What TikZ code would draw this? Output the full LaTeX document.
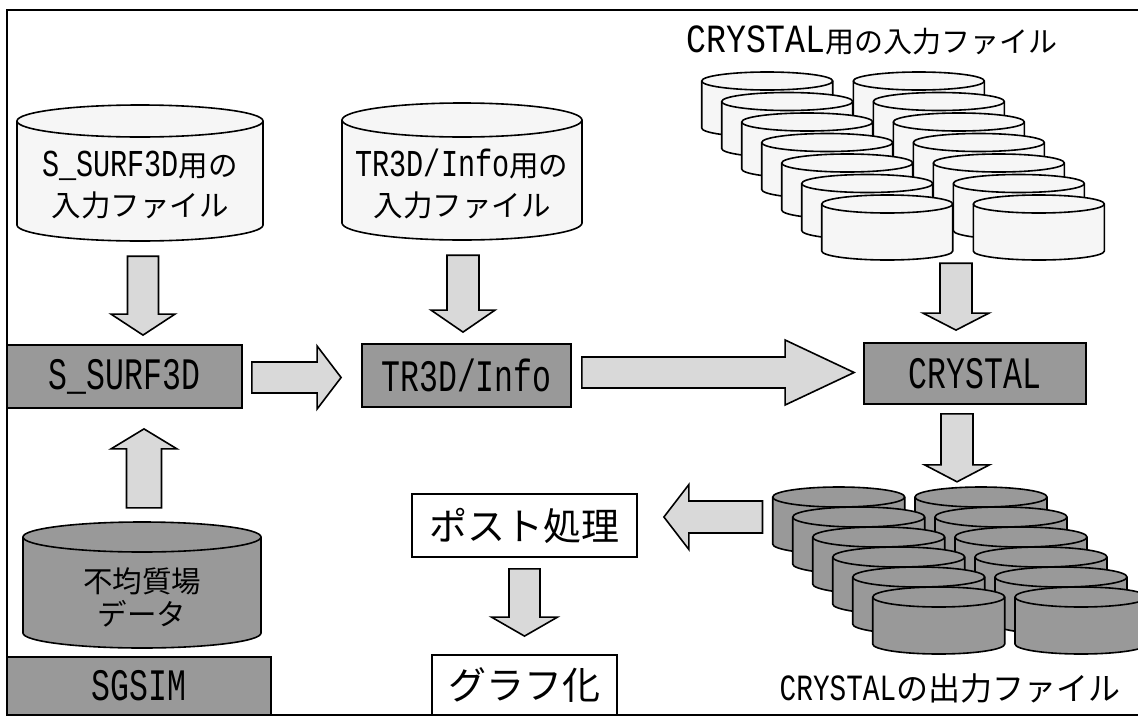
\documentclass[tikz,border=0pt]{standalone}
\usepackage{fontspec}
\setmainfont{Noto Sans CJK JP}
\newfontfamily\boxfont[FakeStretch=0.7]{Liberation Mono}
\newfontfamily\latA[FakeStretch=0.75]{Liberation Mono}
\newfontfamily\latB[FakeStretch=0.83]{Liberation Mono}
\newcommand\cylat[1]{{\latA\fontsize{38}{40}\selectfont #1}}
\usetikzlibrary{calc}
\definecolor{darkfill}{gray}{0.6}
\definecolor{lightfill}{gray}{0.85}
\definecolor{paperfill}{gray}{0.965}
\tikzset{
 frameline/.style={line width=2pt},
 boxdark/.style={draw, line width=1.8pt, fill=darkfill, inner sep=0, font=\boxfont\fontsize{45}{45}\selectfont},
 boxwhite/.style={draw, line width=1.8pt, fill=white, inner sep=0, font=\fontsize{38}{40}\selectfont},
 cylline/.style={line width=1.6pt},
 barrow/.style={draw, line width=1.6pt, fill=lightfill, line join=miter},
 cyltext/.style={align=center, inner sep=0, font=\fontsize{29.5}{40}\selectfont},
 titletext/.style={inner sep=0, font=\fontsize{29}{36}\selectfont},
}
% #1 name, #2 x left, #3 y top, #4 width, #5 height, #6 y radius, #7 fill
\newcommand\cylshape[7]{%
 \filldraw[cylline, fill=#7] (#2,#3+#6) -- (#2,#3+#5-#6)
   arc[start angle=180,end angle=0,x radius=#4/2,y radius=#6] -- (#2+#4,#3+#6)
   arc[start angle=0,end angle=-180,x radius=#4/2,y radius=#6] -- cycle;
 \draw[cylline] (#2,#3+#6) arc[start angle=180,end angle=0,x radius=#4/2,y radius=#6];
 \node[inner sep=0, minimum width=#4, minimum height=#5] (#1) at (#2+#4/2,#3+#5/2) {};}
% vertical block arrow: #1 start, #2 tip, #3 shaft half width, #4 head half width, #5 head length
\newcommand\varrow[5]{%
 \draw[barrow] let \p1=(#1), \p2=(#2), \n1={ifthenelse(\y1>\y2,1,-1)} in
   (\x1-#3pt,\y1) -- (\x1+#3pt,\y1) -- (\x1+#3pt,\y2+\n1*#5pt) -- (\x1+#4pt,\y2+\n1*#5pt)
   -- (\x1,\y2) -- (\x1-#4pt,\y2+\n1*#5pt) -- (\x1-#3pt,\y2+\n1*#5pt) -- cycle;}
% horizontal block arrow
\newcommand\harrow[5]{%
 \draw[barrow] let \p1=(#1), \p2=(#2), \n1={ifthenelse(\x1>\x2,1,-1)} in
   (\x1,\y1-#3pt) -- (\x2+\n1*#5pt,\y1-#3pt) -- (\x2+\n1*#5pt,\y1-#4pt) -- (\x2,\y1)
   -- (\x2+\n1*#5pt,\y1+#4pt) -- (\x2+\n1*#5pt,\y1+#3pt) -- (\x1,\y1+#3pt) -- cycle;}
\begin{document}
\begin{tikzpicture}[x=1pt,y=-1pt]
\useasboundingbox (0,0) rectangle (1138,718);
\fill[white] (0,0) rectangle (1138,718);
\draw[frameline] (1160,10) -- (7,10) -- (7,715) -- (1160,715);

% input cylinders
\cylshape{c1}{17}{105}{246}{136}{16}{paperfill}
\node[cyltext] (c1t) at ($(c1)+(0,12)$) {\cylat{S\_SURF3D}用の\\入力ファイル};
\cylshape{c2}{342}{103}{240}{137}{17}{paperfill}
\node[cyltext] (c2t) at ($(c2)+(0,12)$) {\cylat{TR3D/Info}用の\\入力ファイル};
\cylshape{c3}{23}{522}{238}{126}{15}{darkfill}
\node[cyltext, font=\fontsize{29.5}{33}\selectfont] (c3t) at ($(c3)+(0,12)$) {不均質場\\データ};

% program boxes
\node[boxdark, minimum width=235, minimum height=63] (s3d) at (124.5,376.5) {S\_SURF3D};
\node[boxdark, minimum width=209, minimum height=63] (tr) at (466.5,375.5) {TR3D/Info};
\node[boxdark, minimum width=222, minimum height=61] (cry) at (975,373.5) {CRYSTAL};
\node[boxdark, minimum width=264, minimum height=58] (sg) at (139,686) {SGSIM};
\node[boxwhite, minimum width=225, minimum height=63] (post) at (524.5,525.5) {ポスト処理};
\node[boxwhite, minimum width=185, minimum height=60] (graph) at (524.5,685) {グラフ化};

% CRYSTAL input files
\foreach \i in {0,...,6} {
 \cylshape{inL\i}{701.7+20*\i}{72+20.5*\i}{131}{65}{9}{paperfill}
 \cylshape{inR\i}{853.3+20*\i}{72+20.5*\i}{131}{65}{9}{paperfill}
}
% CRYSTAL output files
\foreach \i in {0,...,5} {
 \cylshape{outL\i}{772.7+20*\i}{487+20*\i}{132}{67}{10}{darkfill}
 \cylshape{outR\i}{915+20*\i}{487+20*\i}{132}{67}{10}{darkfill}
}
\node[titletext] (intitle) at (872,40) {{\latB\fontsize{40}{40}\selectfont CRYSTAL}用の入力ファイル};
\node[titletext, font=\fontsize{32}{36}\selectfont] (outtitle) at (950,688) {{\latA\fontsize{37}{40}\selectfont CRYSTAL}の出力ファイル};

% block arrows
\varrow{$(c1.south)+(3,15)$}{$(s3d.north -| c1.south)+(3,-9)$}{15.5}{32}{21}
\varrow{$(c3.north)+(2,-14)$}{$(s3d.south -| c3.north)+(2,20)$}{17.5}{33}{20}
\harrow{$(s3d.east)+(9,1)$}{$(tr.west |- s3d.east)+(-20,1)$}{15.5}{31.5}{24}
\varrow{$(c2.south)+(1,15)$}{$(tr.north -| c2.south)+(1,-11)$}{16}{32}{22}
\harrow{$(tr.east)+(10,-3)$}{$(cry.west |- tr.east)+(-9,-3)$}{15.5}{32.5}{69}
\varrow{$(inL6.south -| cry.north)+(-19,3)$}{$(cry.north)+(-19,-12)$}{16}{33}{17}
\varrow{$(cry.south)+(-18,9)$}{$(outL0.north -| cry.south)+(-18,-5)$}{16}{32.5}{17}
\harrow{$(outL0.west)+(-10,-3.5)$}{$(post.east |- outL0.west)+(26,-3.5)$}{16}{32.5}{25}
\varrow{$(post.south)+(0,11)$}{$(graph.north)+(0,-18)$}{15.5}{33}{19}
\end{tikzpicture}
\end{document}
